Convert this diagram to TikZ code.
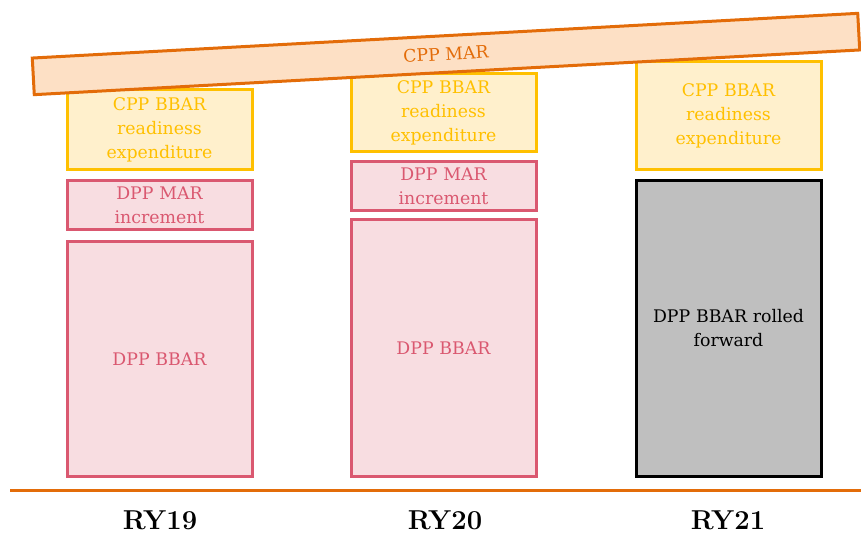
\documentclass[tikz,border=0pt]{standalone}
\usepackage{fontspec}
\newfontfamily\boxfont{DejaVu Serif}
\definecolor{barO}{HTML}{E36C09}
\definecolor{barF}{HTML}{FDE0C5}
\definecolor{yelO}{HTML}{FFC000}
\definecolor{yelF}{HTML}{FFF0CC}
\definecolor{pinkO}{HTML}{DA5870}
\definecolor{pinkF}{HTML}{F8DDE1}
\definecolor{greyF}{HTML}{BFBFBF}
\begin{document}
\begin{tikzpicture}[x=0.75pt,y=-0.75pt,
  box/.style={draw, line width=2.25pt, inner sep=0pt, align=center, text width=134pt,
    font=\boxfont\fontsize{13}{18}\selectfont, minimum width=138.75pt},
  yel/.style={box, draw=yelO, fill=yelF, text=yelO},
  pnk/.style={box, draw=pinkO, fill=pinkF, text=pinkO},
  gry/.style={box, draw=black, fill=greyF, text=black},
  bar/.style={draw=barO, fill=barF, text=barO, line width=2.25pt, inner sep=0pt,
    minimum width=620pt, minimum height=27.5pt, rotate=3.1, font=\boxfont\fontsize{13}{18}\selectfont},
  ry/.style={font=\fontsize{20.5}{22}\selectfont\bfseries},
  base/.style={draw=barO, line width=2.25pt}]
\useasboundingbox (0,0) rectangle (861,533);
% column 1
\node[yel, minimum height=60pt] (c1y) at (159.5,129.5) {CPP BBAR\\readiness\\expenditure};
\node[pnk, minimum height=36.75pt] (c1m) at (159.5,205) {DPP MAR\\increment};
\node[pnk, minimum height=176.25pt] (c1b) at (159.5,359) {DPP BBAR};
% column 2
\node[yel, minimum height=58.5pt] (c2y) at (443.5,112.5) {CPP BBAR\\readiness\\expenditure};
\node[pnk, minimum height=36.75pt] (c2m) at (443.5,186) {DPP MAR\\increment};
\node[pnk, minimum height=192.75pt] (c2b) at (443.5,348) {DPP BBAR};
% column 3
\node[yel, minimum height=81pt] (c3y) at (728.5,115.5) {CPP BBAR\\readiness\\expenditure};
\node[gry, minimum height=222pt] (c3b) at (728.5,328.5) {DPP BBAR rolled\\forward};
% tilted bar
\node[bar] (mar) at (446,54) {CPP MAR};
% baseline
\coordinate (bl) at (10,490);
\coordinate (br) at (861,490);
\draw[base] (bl) -- (br);
% labels
\node[ry] (r1) at (160,520) {RY\oldstylenums{19}};
\node[ry] (r2) at (445,520) {RY\oldstylenums{20}};
\node[ry] (r3) at (728,520) {RY\oldstylenums{21}};
\end{tikzpicture}
\end{document}
